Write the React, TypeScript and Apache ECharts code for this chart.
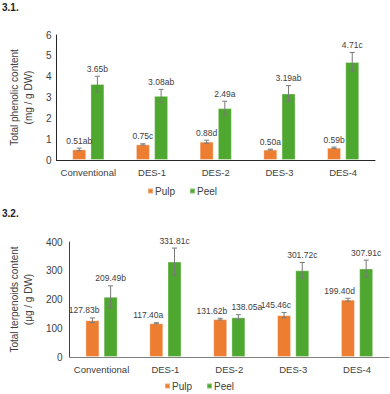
import React, { useEffect, useRef } from "react";
import * as echarts from "echarts";

const categories = ["Conventional", "DES-1", "DES-2", "DES-3", "DES-4"];

const phenolicPulp = [0.51, 0.75, 0.88, 0.5, 0.59];
const phenolicPulpErr = [0.06, 0.03, 0.07, 0.02, 0.03];
const phenolicPulpLabels = ["0.51ab", "0.75c", "0.88d", "0.50a", "0.59b"];
const phenolicPeel = [3.65, 3.08, 2.49, 3.19, 4.71];
const phenolicPeelErr = [0.37, 0.31, 0.33, 0.38, 0.45];
const phenolicPeelLabels = ["3.65b", "3.08ab", "2.49a", "3.19ab", "4.71c"];

const terpPulp = [127.83, 117.4, 131.62, 145.46, 199.4];
const terpPulpErr = [8, 2, 3, 9, 5];
const terpPulpLabels = ["127.83b", "117.40a", "131.62b", "145.46c", "199.40d"];
const terpPeel = [209.49, 331.81, 138.05, 301.72, 307.91];
const terpPeelErr = [38, 47, 9, 27, 29];
const terpPeelLabels = ["209.49b", "331.81c", "138.05a", "301.72c", "307.91c"];

const phenolicTicks = { min: 0, max: 6, interval: 1 };
const terpTicks = { min: 0, max: 400, interval: 100 };

const FONT = "'Liberation Sans', Arial, sans-serif";
const ORANGE = "#ED7D31";
const GREEN = "#4EA72E";
const BAR_W = 14;
const GAP = 4.2;
const LABEL_FS = 8.5;

type Mode = "center" | "right" | "avoid";

function errSeries(
  name: string,
  axisIdx: number,
  vals: number[],
  errs: number[],
  labels: string[],
  offset: number,
  mode: Mode,
  partner?: { vals: number[]; errs: number[] }
) {
  return {
    type: "custom",
    name,
    xAxisIndex: axisIdx,
    yAxisIndex: axisIdx,
    z: 5,
    silent: true,
    data: vals.map((v, i) => [i, v, errs[i]]),
    renderItem: (params: any, api: any) => {
      const i = api.value(0);
      const v = api.value(1);
      const e = api.value(2);
      const idx = params.dataIndex;
      const label = labels[idx];
      const x = api.coord([i, v])[0] + offset;
      const yt = api.coord([i, v + e])[1];
      const yb = api.coord([i, v - e])[1];
      const cap = 2.5;
      const ls = { stroke: "#7a7a7a", lineWidth: 1 };
      let tx = x;
      let align = "center";
      if (mode === "right") {
        tx = x + BAR_W / 2;
        align = "right";
      } else if (mode === "avoid" && partner) {
        const pv = partner.vals[idx] + partner.errs[idx];
        const pyt = api.coord([i, pv])[1];
        const w = label.length * LABEL_FS * 0.52;
        const partnerRight = x - (BAR_W + GAP) + BAR_W / 2;
        if (Math.abs(pyt - yt) < 11 && x - w / 2 < partnerRight + 2) {
          tx = x - BAR_W / 2;
          align = "left";
        }
      }
      return {
        type: "group",
        children: [
          { type: "line", shape: { x1: x, y1: yt, x2: x, y2: yb }, style: ls },
          { type: "line", shape: { x1: x - cap, y1: yt, x2: x + cap, y2: yt }, style: ls },
          { type: "line", shape: { x1: x - cap, y1: yb, x2: x + cap, y2: yb }, style: ls },
          {
            type: "text",
            x: tx,
            y: yt - 3,
            style: {
              text: label,
              textAlign: align,
              textVerticalAlign: "bottom",
              align: align,
              verticalAlign: "bottom",
              fontSize: LABEL_FS,
              fontFamily: FONT,
              fill: "#404040",
            },
          },
        ],
      };
    },
  };
}

function barSeries(name: string, axisIdx: number, vals: number[], color: string) {
  return {
    type: "bar",
    name,
    xAxisIndex: axisIdx,
    yAxisIndex: axisIdx,
    barWidth: BAR_W,
    barGap: "30%",
    data: vals,
    itemStyle: {
      color,
      borderColor: "rgba(255,255,255,0.35)",
      borderWidth: 1,
    },
  };
}

export default function App() {
  const ref = useRef<HTMLDivElement>(null);
  useEffect(() => {
    if (!ref.current) return;
    const chart = echarts.init(ref.current, undefined, { renderer: "svg" });
    const xAxisBase = (gridIndex: number, lineColor: string, margin: number) => ({
      type: "category",
      gridIndex,
      data: categories,
      axisTick: { show: false },
      axisLine: { lineStyle: { color: lineColor, width: 1 } },
      axisLabel: { color: "#404040", fontSize: 9.5, fontFamily: FONT, margin, interval: 0 },
    });
    const yAxisBase = (
      gridIndex: number,
      ticks: any,
      name: string,
      nameGap: number,
      lineColor: string,
      margin: number
    ) => ({
      type: "value",
      gridIndex,
      ...ticks,
      name,
      nameLocation: "middle",
      nameRotate: 90,
      nameGap,
      nameTextStyle: { color: "#404040", fontSize: 10, fontFamily: FONT, lineHeight: 13.5 },
      axisLine: { show: true, lineStyle: { color: lineColor, width: 1 } },
      axisTick: { show: false },
      splitLine: { show: false },
      axisLabel: { color: "#404040", fontSize: 10, fontFamily: FONT, margin },
    });
    const legendBase = (left: number, top: number) => ({
      data: ["Pulp", "Peel"],
      left,
      top,
      padding: 0,
      itemWidth: 5,
      itemHeight: 5,
      itemGap: 14,
      icon: "rect",
      textStyle: { fontSize: 10, color: "#404040", fontFamily: FONT, padding: [0, 0, 0, -3] },
    });
    const titleBase = (text: string, top: number) => ({
      text,
      left: 2,
      top,
      padding: 0,
      textStyle: { fontSize: 10, fontWeight: "bold", color: "#222", fontFamily: FONT },
    });
    chart.setOption({
      animation: false,
      backgroundColor: "#ffffff",
      textStyle: { fontFamily: FONT },
      title: [titleBase("3.1.", 2), titleBase("3.2.", 208)],
      legend: [legendBase(147, 186), legendBase(164, 381)],
      grid: [
        { left: 50, top: 35, width: 325, height: 125 },
        { left: 59, top: 242, width: 330, height: 115 },
      ],
      xAxis: [xAxisBase(0, "#262626", 7), xAxisBase(1, "#7f7f7f", 7)],
      yAxis: [
        yAxisBase(0, phenolicTicks, "Total phenolic content\n(mg / g DW)", 15, "#262626", 5),
        yAxisBase(1, terpTicks, "Total terpenoids content\n(μg / g DW)", 25, "#404040", 7),
      ],
      series: [
        barSeries("Pulp", 0, phenolicPulp, ORANGE),
        barSeries("Peel", 0, phenolicPeel, GREEN),
        barSeries("Pulp", 1, terpPulp, ORANGE),
        barSeries("Peel", 1, terpPeel, GREEN),
        errSeries("e1", 0, phenolicPulp, phenolicPulpErr, phenolicPulpLabels, -(BAR_W + GAP) / 2, "center"),
        errSeries("e2", 0, phenolicPeel, phenolicPeelErr, phenolicPeelLabels, (BAR_W + GAP) / 2, "center"),
        errSeries("e3", 1, terpPulp, terpPulpErr, terpPulpLabels, -(BAR_W + GAP) / 2, "right"),
        errSeries("e4", 1, terpPeel, terpPeelErr, terpPeelLabels, (BAR_W + GAP) / 2, "avoid", {
          vals: terpPulp,
          errs: terpPulpErr,
        }),
      ],
    });
    return () => chart.dispose();
  }, []);
  return (
    <div
      ref={ref}
      style={{ position: "fixed", left: 0, top: 0, width: 390, height: 394, background: "#fff" }}
    />
  );
}
